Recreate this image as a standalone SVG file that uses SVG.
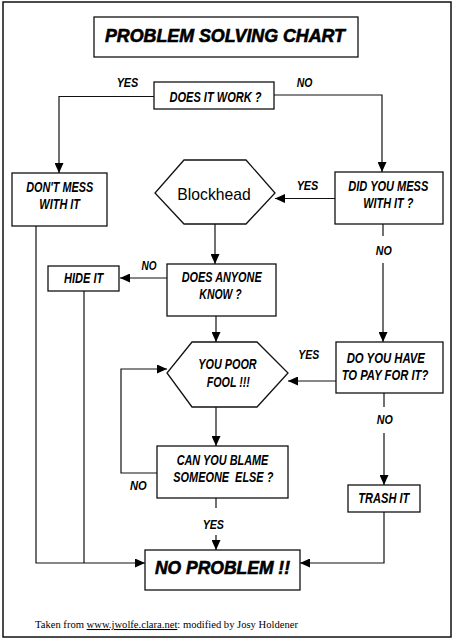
<svg xmlns="http://www.w3.org/2000/svg" width="453" height="640" viewBox="0 0 453 640">
<style>
.bx{fill:#fff;stroke:#111;stroke-width:1.3}
.ln{fill:none;stroke:#111;stroke-width:1.2}
.t{font-family:"Liberation Sans",Arial,sans-serif;font-weight:bold;font-style:italic;font-size:14px;fill:#000;text-anchor:middle}
.lb{font-family:"Liberation Sans",Arial,sans-serif;font-weight:bold;font-style:italic;font-size:13px;fill:#000;text-anchor:middle}
.big{font-family:"Liberation Sans",Arial,sans-serif;font-weight:bold;font-style:italic;font-size:17.5px;fill:#000;stroke:#000;stroke-width:0.6;text-anchor:middle}
</style>
<defs>
<marker id="ah" markerUnits="userSpaceOnUse" markerWidth="10" markerHeight="9" refX="10" refY="4.5" orient="auto">
<path d="M0,0 L10,4.5 L0,9 z" fill="#000"/>
</marker>
</defs>
<rect x="0" y="0" width="453" height="640" fill="#fff"/>
<rect x="3" y="2" width="448" height="635" fill="none" stroke="#111" stroke-width="1.5"/>

<g id="connectors">
<polyline class="ln" points="154,96.5 59,96.5 59,173" marker-end="url(#ah)"/>
<polyline class="ln" points="274,95 382,95 382,172" marker-end="url(#ah)"/>
<line class="ln" x1="335" y1="198.5" x2="275" y2="198.5" marker-end="url(#ah)"/>
<line class="ln" x1="215" y1="224" x2="215" y2="264" marker-end="url(#ah)"/>
<line class="ln" x1="167" y1="278" x2="120" y2="278" marker-end="url(#ah)"/>
<line class="ln" x1="383" y1="224" x2="383" y2="236"/>
<line class="ln" x1="383" y1="263" x2="383" y2="342" marker-end="url(#ah)"/>
<line class="ln" x1="216" y1="316" x2="216" y2="342" marker-end="url(#ah)"/>
<line class="ln" x1="336" y1="381" x2="288" y2="381" marker-end="url(#ah)"/>
<line class="ln" x1="216" y1="407" x2="216" y2="446" marker-end="url(#ah)"/>
<polyline class="ln" points="157,473 121,473 121,369 167,369" marker-end="url(#ah)"/>
<line class="ln" x1="384" y1="393" x2="384" y2="407"/>
<line class="ln" x1="384" y1="433" x2="384" y2="485" marker-end="url(#ah)"/>
<line class="ln" x1="216" y1="498" x2="216" y2="508"/>
<line class="ln" x1="216" y1="535" x2="216" y2="550" marker-end="url(#ah)"/>
<polyline class="ln" points="36,226 36,563 145,563" marker-end="url(#ah)"/>
<line class="ln" x1="84" y1="291" x2="84" y2="563"/>
<polyline class="ln" points="384,512 384,563 300,563" marker-end="url(#ah)"/>
</g>

<g id="labels">
<text class="lb" x="127.5" y="87" textLength="21.7" lengthAdjust="spacingAndGlyphs">YES</text>
<text class="lb" x="304.5" y="87" textLength="15.7" lengthAdjust="spacingAndGlyphs">NO</text>
<text class="lb" x="307.5" y="190" textLength="21.7" lengthAdjust="spacingAndGlyphs">YES</text>
<text class="lb" x="383.7" y="255" textLength="16" lengthAdjust="spacingAndGlyphs">NO</text>
<text class="lb" x="149" y="270" textLength="15" lengthAdjust="spacingAndGlyphs">NO</text>
<text class="lb" x="308.8" y="359.3" textLength="21" lengthAdjust="spacingAndGlyphs">YES</text>
<text class="lb" x="384.7" y="424.3" textLength="16" lengthAdjust="spacingAndGlyphs">NO</text>
<text class="lb" x="138.3" y="490" textLength="16.7" lengthAdjust="spacingAndGlyphs">NO</text>
<text class="lb" x="213.3" y="529.3" textLength="21.3" lengthAdjust="spacingAndGlyphs">YES</text>
</g>

<g id="title">
<rect class="bx" x="94" y="17" width="264" height="40"/>
<text class="big" x="225" y="41.7" textLength="240" lengthAdjust="spacingAndGlyphs">PROBLEM SOLVING CHART</text>
</g>

<g id="does-it-work">
<rect class="bx" x="154" y="82" width="120" height="27"/>
<text class="t" x="215.5" y="101.5" font-size="15" textLength="92" lengthAdjust="spacingAndGlyphs">DOES IT WORK ?</text>
</g>

<g id="dont-mess">
<rect class="bx" x="12" y="173" width="95" height="53"/>
<text class="t" x="59.7" y="192.3" textLength="67" lengthAdjust="spacingAndGlyphs">DON'T MESS</text>
<text class="t" x="59.7" y="209.3" textLength="40.7" lengthAdjust="spacingAndGlyphs">WITH IT</text>
</g>

<g id="did-you-mess">
<rect class="bx" x="335" y="172" width="108" height="52"/>
<text class="t" x="388.3" y="191" textLength="80" lengthAdjust="spacingAndGlyphs">DID YOU MESS</text>
<text class="t" x="388.3" y="208.3" textLength="50" lengthAdjust="spacingAndGlyphs">WITH IT ?</text>
</g>

<g id="blockhead">
<polygon class="bx" points="184,160 246,160 275,193 246,224 184,224 155,193"/>
<text x="214" y="200" font-family="'Liberation Sans',Arial,sans-serif" font-size="17" text-anchor="middle" textLength="73.3" lengthAdjust="spacingAndGlyphs">Blockhead</text>
</g>

<g id="hide-it">
<rect class="bx" x="48" y="266" width="71" height="25"/>
<text class="t" x="83.7" y="282.7" textLength="39.3" lengthAdjust="spacingAndGlyphs">HIDE IT</text>
</g>

<g id="does-anyone-know">
<rect class="bx" x="167" y="264" width="109" height="52"/>
<text class="t" x="221.7" y="282.3" textLength="80" lengthAdjust="spacingAndGlyphs">DOES ANYONE</text>
<text class="t" x="220.5" y="299" textLength="42.3" lengthAdjust="spacingAndGlyphs">KNOW ?</text>
</g>

<g id="you-poor-fool">
<polygon class="bx" points="192,342 257,342 288,373 257,407 192,407 167,373"/>
<text class="t" x="227.5" y="369.3" textLength="58.3" lengthAdjust="spacingAndGlyphs">YOU POOR</text>
<text class="t" x="228.3" y="386.7" textLength="43.3" lengthAdjust="spacingAndGlyphs">FOOL !!!</text>
</g>

<g id="do-you-have-to-pay">
<rect class="bx" x="336" y="342" width="107" height="51"/>
<text class="t" x="385.8" y="363.3" textLength="78.3" lengthAdjust="spacingAndGlyphs">DO YOU HAVE</text>
<text class="t" x="385" y="380" textLength="86.7" lengthAdjust="spacingAndGlyphs">TO PAY FOR IT?</text>
</g>

<g id="can-you-blame">
<rect class="bx" x="157" y="446" width="131" height="52"/>
<text class="t" x="222.5" y="465" textLength="91.7" lengthAdjust="spacingAndGlyphs">CAN YOU BLAME</text>
<text class="t" x="223.3" y="482" textLength="100" lengthAdjust="spacingAndGlyphs" xml:space="preserve">SOMEONE  ELSE ?</text>
</g>

<g id="trash-it">
<rect class="bx" x="348" y="485" width="72" height="27"/>
<text class="t" x="383.8" y="503.3" textLength="51" lengthAdjust="spacingAndGlyphs">TRASH IT</text>
</g>

<g id="no-problem">
<rect class="bx" x="145" y="550" width="155" height="40"/>
<text class="big" x="222.5" y="574.3" textLength="135" lengthAdjust="spacingAndGlyphs">NO PROBLEM !!</text>
</g>

<g id="footer">
<text x="35" y="628" font-family="'Liberation Serif','Times New Roman',serif" font-size="10.5" fill="#000" textLength="263" lengthAdjust="spacingAndGlyphs">Taken from <tspan text-decoration="underline">www.jwolfe.clara.net</tspan>: modified by Josy Holdener</text>
</g>
</svg>
